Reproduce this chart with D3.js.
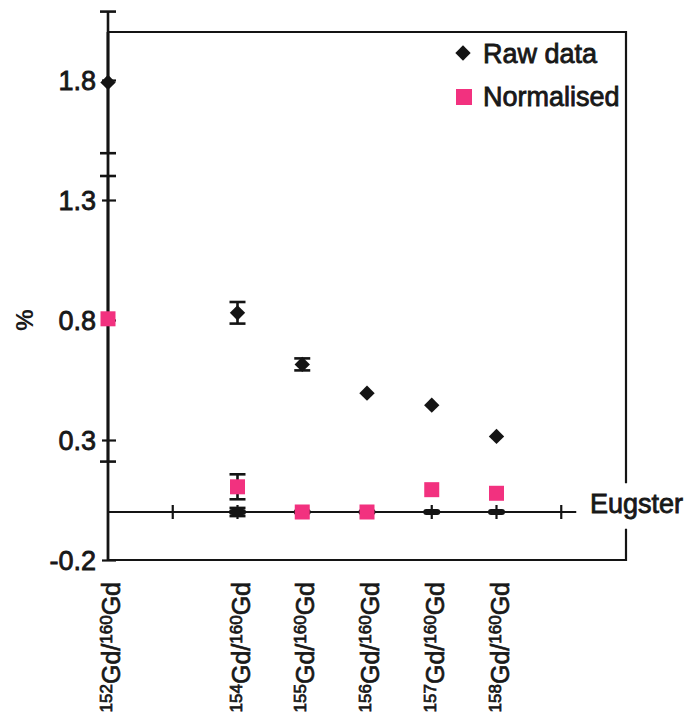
<!DOCTYPE html>
<html>
<head>
<meta charset="utf-8">
<script src="https://cdn.jsdelivr.net/npm/d3@7"></script>
<style>
  html, body { margin: 0; padding: 0; background: #fff; }
  svg { display: block; }
  text { font-family: "Liberation Sans", Arial, Helvetica, sans-serif; fill: #1a1a1a; }
</style>
</head>
<body>
<svg id="chart" width="686" height="718"></svg>
<script>
// Gd isotope ratios relative to 160Gd, in per cent
const isotopes = [152, 154, 155, 156, 157, 158];
const rawValues = [1.79, 0.83, 0.615, 0.495, 0.445, 0.315];
const rawErrors = [0.295, 0.045, 0.025, 0, 0, 0];
const normValues = [0.805, 0.105, 0.0, 0.0, 0.093, 0.078];
const normErrors = [0.595, 0.052, 0, 0, 0, 0];

// Eugster reference values (zero deviation)
const eugsterIsotopes = [154, 155, 156, 157, 158];
const eugsterValues = [0, 0, 0, 0, 0];
const eugsterErrors = [0.017, 0, 0, 0, 0];

const yTickValues = [-0.2, 0.3, 0.8, 1.3, 1.8];
const massTicks = [153, 154, 155, 156, 157, 158, 159];
const legendLabels = ["Raw data", "Normalised"];

const black = "#141414";
const pink = "#f2317f";

const svg = d3.select("#chart");

const x = d3.scaleLinear().domain([152, 160]).range([108, 626]);
const y = d3.scaleLinear().domain([-0.2, 2.0]).range([560, 32]);

// plot frame (top and right), right side interrupted by the Eugster label
const frame = svg.append("g").attr("stroke", black).attr("stroke-width", 2.2).attr("fill", "none");
frame.append("path").attr("d", d3.line()([[x(152), y(2.0)], [x(160), y(2.0)], [x(160), y(0.12)]]));
frame.append("path").attr("d", d3.line()([[x(160), y(-0.07)], [x(160), y(-0.2)], [x(152), y(-0.2)]]));

// y axis with cross ticks
const yAxis = d3.axisLeft(y)
  .tickValues(yTickValues)
  .tickFormat(d => d.toFixed(1))
  .tickSize(0)
  .tickPadding(12);
const ya = svg.append("g").attr("transform", `translate(${x(152)},0)`).call(yAxis);
ya.select(".domain").remove();
ya.selectAll(".tick text").attr("font-size", 27).attr("fill", black)
  .attr("stroke", black).attr("stroke-width", 0.8).attr("dy", "0.36em");
ya.selectAll(".tick").append("line")
  .attr("x1", -6).attr("x2", 8).attr("stroke", black).attr("stroke-width", 2.2);
svg.append("line")
  .attr("x1", x(152)).attr("x2", x(152))
  .attr("y1", y(2.0)).attr("y2", y(-0.2))
  .attr("stroke", black).attr("stroke-width", 2.8);

// zero (Eugster) line with cross ticks at each mass
svg.append("line")
  .attr("x1", x(152)).attr("x2", x(159) + 15)
  .attr("y1", y(0)).attr("y2", y(0))
  .attr("stroke", black).attr("stroke-width", 2.2);
svg.append("g").selectAll("line").data(massTicks).join("line")
  .attr("x1", d => x(d)).attr("x2", d => x(d))
  .attr("y1", y(0) - 7).attr("y2", y(0) + 7)
  .attr("stroke", black).attr("stroke-width", 2.2);

svg.append("text")
  .attr("x", 590).attr("y", y(0) + 1)
  .attr("font-size", 27).attr("fill", black)
  .attr("stroke", black).attr("stroke-width", 0.8)
  .text("Eugster");

// error bars
function errorBars(xs, vals, errs) {
  const g = svg.append("g").attr("stroke", black).attr("stroke-width", 2.6).attr("fill", "none");
  xs.forEach((m, i) => {
    const e = errs[i];
    if (!e) return;
    const cx = x(m), y1 = y(vals[i] + e), y2 = y(vals[i] - e);
    g.append("line").attr("x1", cx).attr("x2", cx).attr("y1", y1).attr("y2", y2);
    g.append("line").attr("x1", cx - 8).attr("x2", cx + 8).attr("y1", y1).attr("y2", y1);
    g.append("line").attr("x1", cx - 8).attr("x2", cx + 8).attr("y1", y2).attr("y2", y2);
  });
}
errorBars(eugsterIsotopes, eugsterValues, eugsterErrors);
errorBars(isotopes, rawValues, rawErrors);
errorBars(isotopes, normValues, normErrors);

// Eugster markers: short thick dashes
svg.append("g").selectAll("rect").data(eugsterIsotopes).join("rect")
  .attr("x", d => x(d) - 8.5).attr("y", (d, i) => y(eugsterValues[i]) - 3)
  .attr("width", 17).attr("height", 6).attr("rx", 3)
  .attr("fill", black);

// raw data diamonds
const diamond = d3.symbol().type(d3.symbolDiamond2).size(150);
svg.append("g").selectAll("path").data(isotopes).join("path")
  .attr("transform", (d, i) => `translate(${x(d)},${y(rawValues[i])})`)
  .attr("d", diamond)
  .attr("fill", black);

// normalised squares
svg.append("g").selectAll("rect").data(isotopes).join("rect")
  .attr("x", d => x(d) - 7.5).attr("y", (d, i) => y(normValues[i]) - 7.5)
  .attr("width", 15).attr("height", 15)
  .attr("fill", pink);

// legend
const lg = svg.append("g");
lg.append("path").attr("transform", "translate(463,53)").attr("d", diamond).attr("fill", black);
lg.append("rect").attr("x", 456).attr("y", 89).attr("width", 16).attr("height", 16).attr("fill", pink);
lg.selectAll("text").data(legendLabels).join("text")
  .attr("x", 483).attr("y", (d, i) => 63 + i * 43)
  .attr("font-size", 27).attr("fill", black)
  .attr("stroke", black).attr("stroke-width", 0.8)
  .text(d => d);

// y title
svg.append("text")
  .attr("transform", "translate(33,320) rotate(-90)")
  .attr("text-anchor", "middle")
  .attr("font-size", 24).attr("font-weight", "bold").attr("fill", black)
  .text("%");

// category labels, rotated, with mass-number superscripts
const labels = svg.append("g");
isotopes.forEach(m => {
  const t = labels.append("text")
    .attr("transform", `translate(${x(m) + 12},582) rotate(-90)`)
    .attr("text-anchor", "end")
    .attr("font-size", 25).attr("fill", black)
    .attr("stroke", black).attr("stroke-width", 0.7);
  t.append("tspan").attr("font-size", 17).attr("dy", -8).text(m);
  t.append("tspan").attr("dy", 8).text("Gd/");
  t.append("tspan").attr("font-size", 17).attr("dy", -8).text("160");
  t.append("tspan").attr("dy", 8).text("Gd");
});
</script>
</body>
</html>
